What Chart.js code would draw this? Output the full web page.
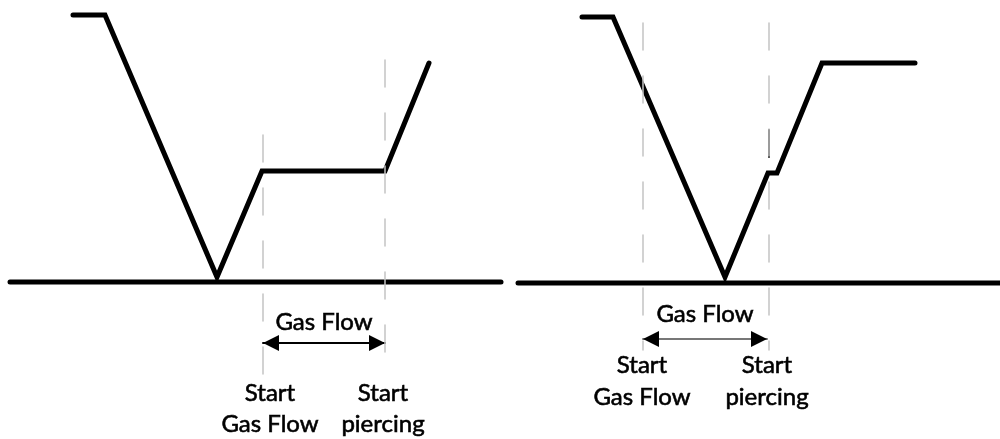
<!DOCTYPE html>
<html>
<head>
<meta charset="utf-8">
<script src="https://cdn.jsdelivr.net/npm/chart.js"></script>
<style>
  body { margin: 0; background: #fff; }
  #wrap { width: 1000px; height: 439px; }
</style>
</head>
<body>
<div id="wrap"><canvas id="myChart"></canvas></div>
<script>
// torch height profile, left panel (x across, y down from top)
var leftX = [73, 105, 217, 262, 385, 429];
var leftY = [15, 15, 277, 171, 171, 63];
// torch height profile, right panel
var rightX = [582, 613, 725, 768, 777, 822, 915];
var rightY = [17, 17, 277, 173, 173, 63, 63];
// plate surface lines
var plateX = [[10, 501], [518, 1000]];
var plateY = [282, 283];
// dashed event markers: x, top, bottom
var guideX = [263, 385, 643, 769];
var guideTop = [135, 60, 23, 23];
var guideBottom = [387, 352, 350, 350];
// gas flow arrows
var arrowFrom = [263, 643];
var arrowTo = [385, 767];
var arrowY = [343, 339];
// text labels
var labelText = ["Gas Flow", "Start", "Gas Flow", "Start", "piercing",
                 "Gas Flow", "Start", "Gas Flow", "Start", "piercing"];
var labelX = [324, 270, 270, 383, 383, 705, 642, 642, 767, 767];
var labelY = [330, 401, 432, 401, 432, 322, 373, 405, 373, 405];

function pts(xs, ys) {
  return xs.map(function (x, i) { return {x: x, y: ys[i]}; });
}

// arrow head image with its tip at the centre
var head = document.createElement('canvas');
head.width = 34; head.height = 16;
var hc = head.getContext('2d');
hc.fillStyle = '#000';
hc.beginPath();
hc.moveTo(17, 8); hc.lineTo(1, 0); hc.lineTo(1, 16); hc.closePath();
hc.fill();

var datasets = [];
guideX.forEach(function (x, i) {
  datasets.push({
    data: [{x: x, y: guideTop[i]}, {x: x, y: guideBottom[i]}],
    borderColor: '#c4c4c4', borderWidth: 1.5, borderDash: [27, 26]
  });
});
datasets.push({
  data: [{x: 769, y: 130}, {x: 769, y: 157}],
  borderColor: '#222', borderWidth: 2
});
plateX.forEach(function (xs, i) {
  datasets.push({
    data: [{x: xs[0], y: plateY[i]}, {x: xs[1], y: plateY[i]}],
    borderColor: '#000', borderWidth: 5
  });
});
datasets.push({data: pts(leftX, leftY), borderColor: '#000', borderWidth: 5});
datasets.push({data: pts(rightX, rightY), borderColor: '#000', borderWidth: 5});
arrowFrom.forEach(function (x, i) {
  datasets.push({
    data: [{x: x, y: arrowY[i]}, {x: arrowTo[i], y: arrowY[i]}],
    borderColor: i == 0 ? '#000' : '#777', borderWidth: 2,
    pointStyle: head, pointRadius: 8, pointRotation: [180, 0]
  });
});
datasets.forEach(function (d) {
  d.showLine = true;
  d.clip = false;
  d.tension = 0;
  d.borderCapStyle = 'round';
  d.borderJoinStyle = 'miter';
  if (d.pointRadius === undefined) d.pointRadius = 0;
});

var labels = {
  id: 'labels',
  afterDatasetsDraw: function (chart) {
    var ctx = chart.ctx, sx = chart.scales.x, sy = chart.scales.y;
    ctx.save();
    ctx.fillStyle = '#000';
    ctx.strokeStyle = '#000';
    ctx.lineWidth = 0.6;
    ctx.font = '24px Lato';
    ctx.textAlign = 'center';
    ctx.textBaseline = 'alphabetic';
    labelText.forEach(function (t, i) {
      var px = sx.getPixelForValue(labelX[i]), py = sy.getPixelForValue(labelY[i]);
      ctx.fillText(t, px, py);
      ctx.strokeText(t, px, py);
    });
    ctx.restore();
  }
};

new Chart("myChart", {
  type: "scatter",
  data: {datasets: datasets},
  options: {
    responsive: true,
    maintainAspectRatio: false,
    animation: false,
    layout: {padding: 0, autoPadding: false},
    scales: {
      x: {type: 'linear', min: 0, max: 1000, display: false},
      y: {type: 'linear', min: 0, max: 439, reverse: true, display: false}
    },
    plugins: {legend: {display: false}, tooltip: {enabled: false}}
  },
  plugins: [labels]
});
</script>
</body>
</html>
